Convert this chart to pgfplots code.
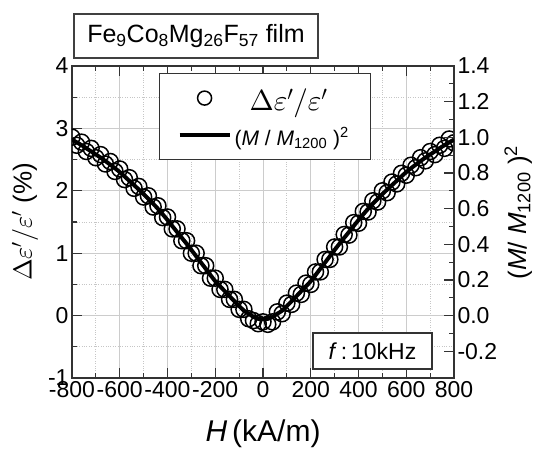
\documentclass[border=0pt]{standalone}
\usepackage{fontspec}
\setmainfont{Liberation Sans}
% let the math fonts scale past 25pt
\DeclareFontShape{OML}{cmm}{m}{it}{<->cmmi10}{}
\DeclareFontShape{OMS}{cmsy}{m}{n}{<->cmsy10}{}
\DeclareFontShape{OT1}{cmr}{m}{n}{<->cmr10}{}
\usepackage{pgfplots}
\pgfplotsset{compat=1.18}

% measured Delta eps'/eps' (%), two sweeps
\pgfplotstableread{
H v
-800 2.86
-760 2.78
-720 2.68
-680 2.58
-640 2.47
-600 2.35
-560 2.21
-520 2.07
-480 1.92
-440 1.76
-400 1.58
-360 1.39
-320 1.20
-280 1.00
-240 0.80
-200 0.60
-160 0.42
-120 0.26
-80 0.10
-40 -0.08
0 -0.10
40 -0.10
80 0.03
120 0.18
160 0.34
200 0.50
240 0.70
280 0.90
320 1.10
360 1.29
400 1.48
440 1.66
480 1.82
520 1.97
560 2.11
600 2.25
640 2.37
680 2.48
720 2.58
760 2.68
800 2.77
}\sweepA

\pgfplotstableread{
H v
-780 2.73
-740 2.63
-700 2.53
-660 2.43
-620 2.31
-580 2.18
-540 2.04
-500 1.90
-460 1.74
-420 1.57
-380 1.39
-340 1.20
-300 1.00
-260 0.80
-220 0.60
-180 0.42
-140 0.26
-100 0.10
-60 -0.05
-20 -0.13
20 -0.14
60 0.06
100 0.20
140 0.36
180 0.52
220 0.70
260 0.90
300 1.10
340 1.30
380 1.49
420 1.67
460 1.84
500 2.00
540 2.14
580 2.28
620 2.41
660 2.53
700 2.63
740 2.73
780 2.83
}\sweepB

% (M/M1200)^2
\pgfplotstableread{
H m
-800 0.987
-760 0.956
-720 0.921
-680 0.886
-640 0.847
-600 0.805
-560 0.756
-520 0.707
-480 0.655
-440 0.599
-400 0.536
-360 0.469
-320 0.403
-280 0.333
-240 0.263
-200 0.193
-160 0.137
-120 0.081
-80 0.028
-60 0.011
-40 -0.007
-20 -0.018
0 -0.021
20 -0.018
40 -0.007
60 0.011
80 0.028
120 0.081
160 0.137
200 0.193
240 0.263
280 0.333
320 0.403
360 0.469
400 0.536
440 0.599
480 0.655
520 0.707
560 0.756
600 0.805
640 0.847
680 0.886
720 0.921
760 0.956
800 0.987
}\magn

\begin{document}
\begin{tikzpicture}
\pgfplotsset{
  common/.style={
    width=382pt, height=312pt, scale only axis,
    at={(0,0)}, anchor=south west,
    xmin=-800, xmax=800,
    tick align=inside,
    major tick length=10pt, minor tick length=5pt,
    every tick/.style={black!80, line width=1.2pt},
    axis line style={black!80, line width=1.5pt},
    ticklabel style={font=\fontsize{23}{26}\selectfont},
    /pgf/number format/assume math mode=true,
  }
}
\begin{axis}[common,
    ymin=-1, ymax=4,
    xtick={-800,-600,...,800}, minor x tick num=1,
    ytick={-1,0,...,4}, minor y tick num=1,
    xtick pos=both, ytick pos=left,
    grid=both,
    major grid style={gray!40, line width=1pt},
    minor grid style={gray!45, dotted, line width=1pt},
    clip marker paths=true,
    xlabel={\textit{H}\,(kA/m)},
    xlabel style={font=\fontsize{30}{34}\selectfont,
      at={(axis description cs:0.5,-0.18)}, anchor=center},
    ylabel={$\Delta\varepsilon'/\varepsilon'$ (\%)},
    ylabel style={font=\fontsize{26}{30}\selectfont,
      at={(axis description cs:-0.123,0.5)}, anchor=center},
    legend style={at={(0.2277,0.9776)}, anchor=north west,
      draw=black!80, line width=1.2pt, inner xsep=18pt, inner ysep=6pt,
      row sep=0pt, column sep=0pt,
      nodes={inner sep=3pt, minimum height=37pt}},
    legend cell align=left,
  ]
  \addplot[only marks, mark=o, mark size=8pt,
    mark options={line width=1.5pt, fill=white},
    legend image code/.code={
      \draw[mark options={line width=1.5pt, fill=white}, mark size=7pt]
        plot[mark=o] coordinates {(25pt,0pt)};
      \path[draw=none] (0pt,0pt) -- (50pt,0pt);}
    ] table[x=H, y=v] {\sweepA};
  \addlegendentry{\parbox{115pt}{\hspace*{15pt}\fontsize{29}{32}\selectfont $\Delta\varepsilon'/\varepsilon'$}}
  \addplot[only marks, mark=o, mark size=8pt,
    mark options={line width=1.5pt, fill=white}, forget plot] table[x=H, y=v] {\sweepB};
  \addlegendimage{black, line width=4pt,
    legend image code/.code={\draw (0pt,0pt) -- (50pt,0pt);}}
  \addlegendentry{\parbox{115pt}{\fontsize{21}{24}\selectfont (\textit{M} / \textit{M}\textsubscript{1200}\ )\textsuperscript{2}}}
\end{axis}

\begin{axis}[common,
    ymin=-0.35, ymax=1.4,
    axis x line=none,
    axis y line*=right,
    ytick={-0.2,0,...,1.4}, minor y tick num=1,
    yticklabel style={/pgf/number format/.cd, fixed, fixed zerofill, precision=1},
    ylabel={(\textit{M}/ \textit{M}\textsubscript{1200}\ )\textsuperscript{2}},
    ylabel style={font=\fontsize{26}{30}\selectfont,
      at={(axis description cs:1.168,0.53)}, anchor=center, rotate=0},
  ]
  \addplot[black, line width=4pt, smooth] table[x=H, y=m] {\magn};
\end{axis}

\node[draw=black!75, line width=1.5pt, minimum width=244pt, minimum height=44pt,
  font=\fontsize{25}{28}\selectfont] at (124pt,342pt)
  {Fe\textsubscript{9}Co\textsubscript{8}Mg\textsubscript{26}F\textsubscript{57} film};
\node[draw=black!80, fill=white, line width=1.2pt, minimum width=119pt, minimum height=36pt,
  font=\fontsize{23}{26}\selectfont] at (300.5pt,27pt) {\textit{f}\,:\,10kHz};

\pgfresetboundingbox
\path[use as bounding box] (-72pt,-72pt) rectangle (465pt,378pt);
\end{tikzpicture}
\end{document}
